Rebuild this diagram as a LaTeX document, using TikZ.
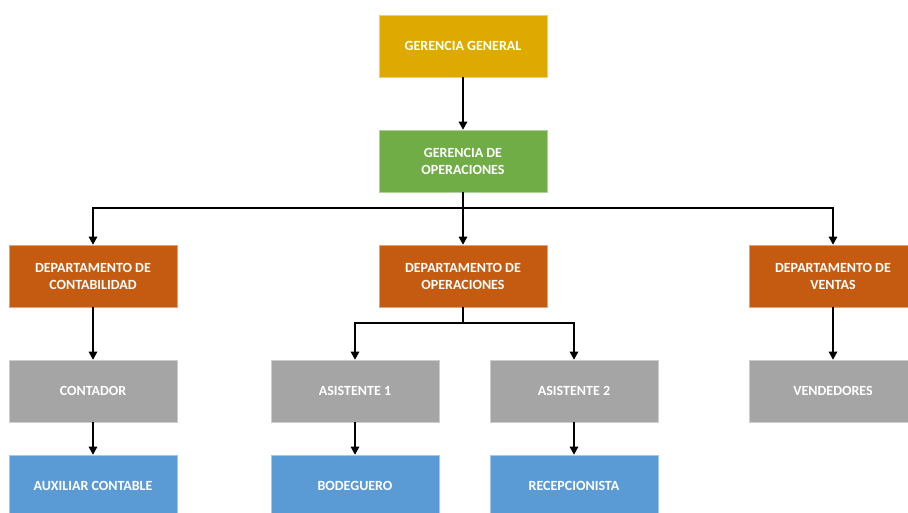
\documentclass[tikz,border=0pt]{standalone}
\usepackage{fontspec}
\setmainfont{Carlito}
\usetikzlibrary{arrows.meta}
\definecolor{cgold}{HTML}{DEA900}
\definecolor{cgreen}{HTML}{70AD47}
\definecolor{corange}{HTML}{C55A11}
\definecolor{cgray}{HTML}{A5A5A5}
\definecolor{cblue}{HTML}{5B9BD5}
\tikzset{
  box/.style={minimum width=168pt, minimum height=62pt, inner sep=0pt, align=center,
    text=white, font=\fontsize{14}{17}\selectfont\bfseries, draw=#1!55!white, line width=0.6pt, fill=#1},
  conn/.style={line width=1.3pt, black},
  arr/.style={conn, -{Triangle[length=8pt,width=8.5pt]}}
}
\begin{document}
\begin{tikzpicture}[x=1pt,y=-1pt]
\useasboundingbox (0,0) rectangle (908,513);
\clip (0,0) rectangle (908,513);
\node[box=cgold] (gg) at (463,46) {GERENCIA GENERAL};
\node[box=cgreen] (go) at (463,161) {GERENCIA DE\\OPERACIONES};
\node[box=corange] (dc) at (93,276) {DEPARTAMENTO DE\\CONTABILIDAD};
\node[box=corange] (dop) at (463,276) {DEPARTAMENTO DE\\OPERACIONES};
\node[box=corange] (dv) at (833,276) {DEPARTAMENTO DE\\VENTAS};
\node[box=cgray] (con) at (93,391) {CONTADOR};
\node[box=cgray] (a1) at (355,391) {ASISTENTE 1};
\node[box=cgray] (a2) at (574,391) {ASISTENTE 2};
\node[box=cgray] (ven) at (833,391) {VENDEDORES};
\node[box=cblue] (aux) at (93,486) {AUXILIAR CONTABLE};
\node[box=cblue] (bod) at (355,486) {BODEGUERO};
\node[box=cblue] (rec) at (574,486) {RECEPCIONISTA};
\coordinate (b1) at (463,208);
\coordinate (b2) at (463,323);
\draw[arr] (gg) -- (go);
\draw[conn] (go) -- (b1);
\draw[arr] (b1) -| (dc.north);
\draw[arr] (b1) -- (dop);
\draw[arr] (b1) -| (dv.north);
\draw[conn] (dop) -- (b2);
\draw[arr] (b2) -| (a1.north);
\draw[arr] (b2) -| (a2.north);
\draw[arr] (dc) -- (con);
\draw[arr] (con) -- (aux);
\draw[arr] (dv) -- (ven);
\draw[arr] (a1) -- (bod);
\draw[arr] (a2) -- (rec);
\end{tikzpicture}
\end{document}
